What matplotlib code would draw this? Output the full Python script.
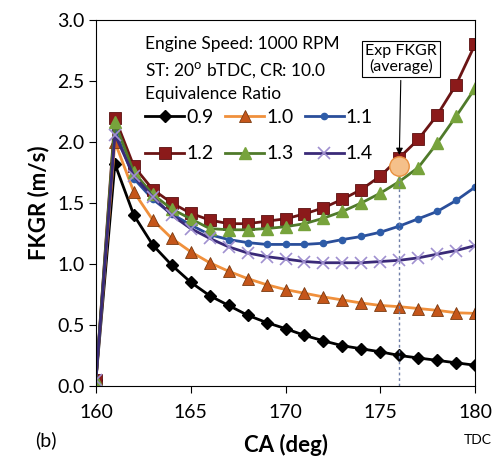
import numpy as np
import matplotlib.pyplot as plt

plt.rcParams['font.family'] = ['Lato', 'DejaVu Sans']

ca = [160, 161, 162, 163, 164, 165, 166, 167, 168, 169, 170,
      171, 172, 173, 174, 175, 176, 177, 178, 179, 180]

phi_09 = [0.05, 1.82, 1.40, 1.155, 0.99, 0.85, 0.74, 0.66, 0.58, 0.52, 0.47,
          0.415, 0.37, 0.33, 0.305, 0.28, 0.25, 0.23, 0.21, 0.19, 0.17]
phi_10 = [0.05, 2.00, 1.59, 1.36, 1.21, 1.10, 1.01, 0.94, 0.88, 0.83, 0.79,
          0.76, 0.73, 0.705, 0.68, 0.66, 0.65, 0.635, 0.62, 0.60, 0.595]
phi_11 = [0.05, 2.10, 1.70, 1.53, 1.41, 1.32, 1.24, 1.20, 1.175, 1.16, 1.16,
          1.16, 1.17, 1.20, 1.225, 1.26, 1.31, 1.37, 1.43, 1.52, 1.63]
phi_12 = [0.05, 2.20, 1.80, 1.61, 1.50, 1.415, 1.36, 1.33, 1.33, 1.35, 1.37,
          1.41, 1.46, 1.53, 1.61, 1.72, 1.87, 2.02, 2.22, 2.47, 2.80]
phi_13 = [0.05, 2.16, 1.75, 1.57, 1.45, 1.37, 1.29, 1.28, 1.28, 1.29, 1.305,
          1.33, 1.375, 1.43, 1.50, 1.58, 1.675, 1.79, 1.99, 2.21, 2.44]
phi_14 = [0.05, 2.06, 1.72, 1.55, 1.40, 1.29, 1.21, 1.14, 1.09, 1.06, 1.04,
          1.02, 1.01, 1.01, 1.01, 1.02, 1.03, 1.05, 1.08, 1.11, 1.15]

exp_ca = 176
exp_fkgr = 1.80

fig = plt.figure(figsize=(4.97, 4.62), dpi=100)
ax = fig.add_axes([0.193, 0.1645, 0.763, 0.7925])

h09, = ax.plot(ca, phi_09, color='black', lw=2, marker='D', ms=6,
               mfc='black', mec='black', label='0.9')
h10, = ax.plot(ca, phi_10, color='#F0903C', lw=2, marker='^', ms=8.5,
               mfc='#C5561A', mec='#7a3a10', mew=0.6, label='1.0')
h11, = ax.plot(ca, phi_11, color='#2A4E9A', lw=2, marker='o', ms=4.5,
               mfc='#2E5CA8', mec='#2E5CA8', label='1.1')
h12, = ax.plot(ca, phi_12, color='#6B1414', lw=2, marker='s', ms=9,
               mfc='#8B1A1A', mec='#5a1010', mew=0.6, label='1.2')
h13, = ax.plot(ca, phi_13, color='#4F7A2A', lw=2, marker='^', ms=8.5,
               mfc='#77A33C', mec='#77A33C', label='1.3')
h14, = ax.plot(ca, phi_14, color='#3A2A78', lw=2, marker='x', ms=8, mew=1.2,
               mec='#A090D0', label='1.4')

# experimental average point
ax.plot([exp_ca, exp_ca], [0, exp_fkgr], ls=(0, (2, 2)), color='#6f7fa8', lw=1)
ax.plot(exp_ca, exp_fkgr, 'o', ms=14, mfc='#F5C08A', mec='#E89040', mew=1, zorder=5)
ax.annotate('Exp FKGR\n(average)', xy=(exp_ca, exp_fkgr + 0.07), xytext=(176.1, 2.68),
            ha='center', va='center', fontsize=11.5, linespacing=1.1,
            bbox=dict(boxstyle='square,pad=0.2', fc='white', ec='black', lw=0.8),
            arrowprops=dict(arrowstyle='-|>', color='black', lw=0.8, mutation_scale=10))

ax.text(162.6, 2.80, 'Engine Speed: 1000 RPM', fontsize=12.5, va='center')
ax.text(162.6, 2.59, 'ST: 20$^{\\mathrm{o}}$ bTDC, CR: 10.0', fontsize=12.5, va='center')
ax.text(162.6, 2.39, 'Equivalence Ratio', fontsize=12.5, va='center')

# row-major legend: 0.9 1.0 1.1 / 1.2 1.3 1.4
order = [h09, h12, h10, h13, h11, h14]
ax.legend(order, [h.get_label() for h in order], ncol=3, loc='upper left',
          bbox_to_anchor=(0.105, 0.783), frameon=False, fontsize=14,
          handlelength=2.0, handletextpad=0.1, columnspacing=0.6,
          labelspacing=1.0, borderpad=0)

ax.set_xlim(160, 180)
ax.set_ylim(0, 3.0)
ax.set_xticks([160, 165, 170, 175, 180])
ax.set_yticks(np.arange(0, 3.01, 0.5))
ax.set_yticklabels([f'{v:.1f}' for v in np.arange(0, 3.01, 0.5)])
ax.tick_params(labelsize=14, direction='out', length=5, width=0.8, pad=3)
ax.tick_params(axis='x', pad=8)
for s in ax.spines.values():
    s.set_linewidth(0.8)

ax.set_xlabel('CA (deg)', fontsize=16, fontweight='bold', labelpad=9)
ax.set_ylabel('FKGR (m/s)', fontsize=16, fontweight='bold', labelpad=6)
fig.text(0.07, 0.035, '(b)', fontsize=14)
fig.text(0.962, 0.04, 'TDC', fontsize=10, ha='center')

fig.savefig('out.png', dpi=100)
